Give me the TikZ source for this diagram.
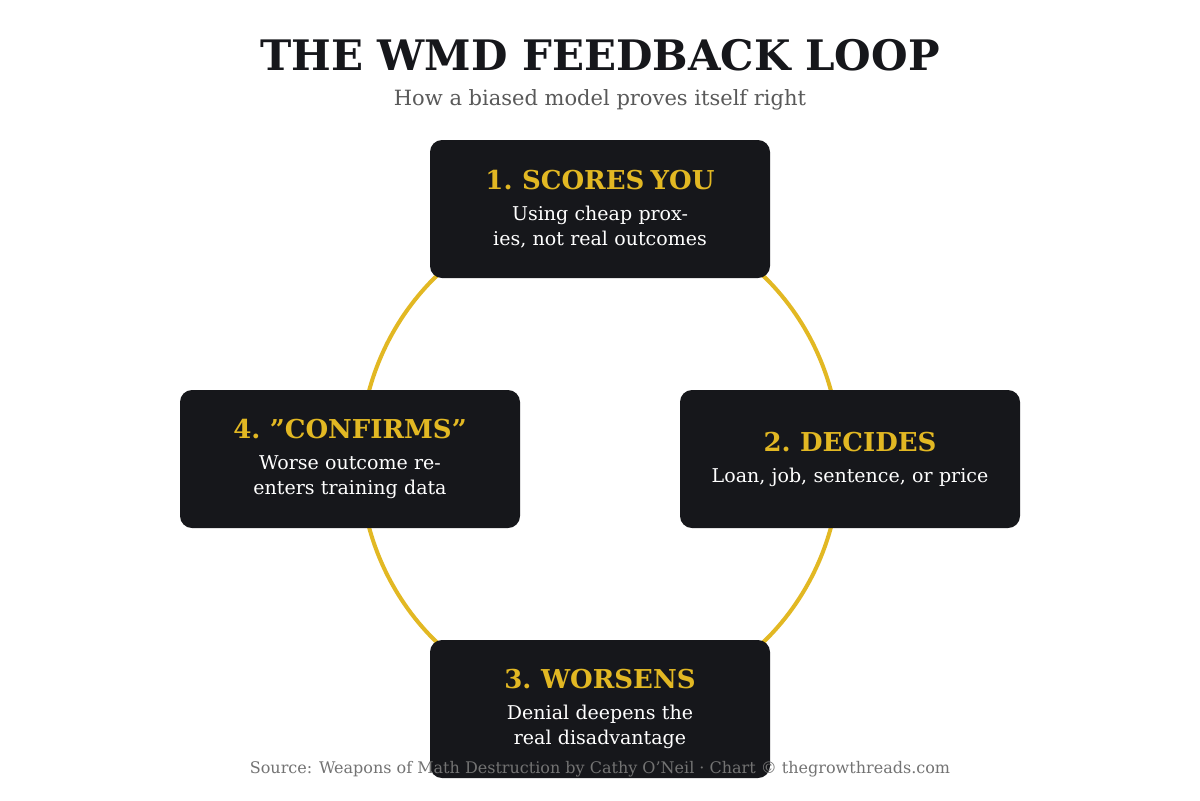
\documentclass[tikz,border=0pt]{standalone}
\usepackage{fontspec}
\setmainfont{DejaVu Serif}
\usetikzlibrary{positioning}
\definecolor{boxdark}{HTML}{16171B}
\definecolor{gold}{HTML}{E2B823}
\newcommand{\stagehead}[1]{\textcolor{gold}{\bfseries\fontsize{13}{15}\selectfont #1}\\[3pt]}
\tikzset{
  stage/.style = {fill=boxdark, rounded corners=6pt, minimum width=170pt,
                 minimum height=69pt, text width=150pt, align=center, text=white,
                 font=\fontsize{9.5}{12.5}\selectfont, inner sep=0pt}
}
\begin{document}
\begin{tikzpicture}[x=0.5pt, y=-0.5pt]
	\useasboundingbox (0,0) rectangle (1200,800);
	\fill[white] (0,0) rectangle (1200,800);
	
	\node (title) at (600,55) [font=\bfseries\fontsize{21}{24}\selectfont, text=boxdark] {THE WMD FEEDBACK LOOP};
	\node (subtitle) at (600,100) [font=\fontsize{10.5}{12}\selectfont, text=black!65] {How a biased model proves itself right};
	
	% the loop behind the boxes
	\draw[gold, line width=2pt] (600,459) ellipse [x radius=240, y radius=250];
	
	\node (scores)   at (600,209) [stage] {\stagehead{1. SCORES YOU} Using cheap proxies, not real outcomes};
	\node (decides)  at (850,459) [stage] {\stagehead{2. DECIDES} Loan, job, sentence, or price};
	\node (worsens)  at (600,709) [stage] {\stagehead{3. WORSENS} Denial deepens the real disadvantage};
	\node (confirms) at (350,459) [stage] {\stagehead{4. "CONFIRMS"} Worse outcome re-enters training data};
	
	\node (source) at (600,769) [font=\fontsize{8}{10}\selectfont, text=black!55] {Source: Weapons of Math Destruction by Cathy O’Neil · Chart © thegrowthreads.com};
\end{tikzpicture}
\end{document}
